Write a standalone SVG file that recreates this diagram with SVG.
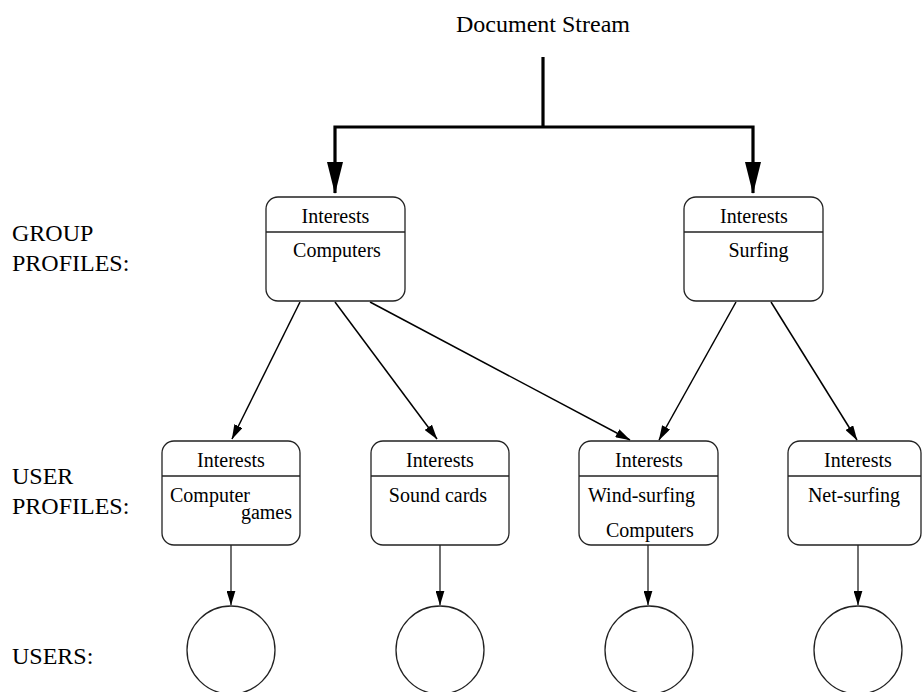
<svg xmlns="http://www.w3.org/2000/svg" width="922" height="692" viewBox="0 0 922 692">
  <style>
    text { font-family: "Liberation Serif", "Times New Roman", serif; fill: #000; }
    .label { font-size: 24px; }
    .title { font-size: 24px; }
    .txt { font-size: 20px; }
    .box { fill: #fff; stroke: #222; stroke-width: 1.3; }
    .div { stroke: #222; stroke-width: 1.3; }
    .feed { fill: none; stroke: #000; stroke-width: 3.2; }
    .link { fill: none; stroke: #000; stroke-width: 1.5; }
    .down { fill: none; stroke: #222; stroke-width: 1.3; }
    .user { fill: #fff; stroke: #222; stroke-width: 1.3; }
  </style>
  <defs>
    <marker id="bigHead" markerUnits="userSpaceOnUse" viewBox="0 0 32 16" markerWidth="32" markerHeight="16" refX="31" refY="8" orient="auto">
      <path d="M0,0 L32,8 L0,16 z" fill="#000"/>
    </marker>
    <marker id="head" markerUnits="userSpaceOnUse" viewBox="0 0 15 9" markerWidth="15" markerHeight="9" refX="14.5" refY="4.5" orient="auto">
      <path d="M0,0 L15,4.5 L0,9 z" fill="#000"/>
    </marker>
  </defs>

  <rect width="922" height="692" fill="#fff"/>

  <!-- row labels -->
  <g id="row-labels">
    <text class="title" x="543" y="32" text-anchor="middle">Document Stream</text>
    <text class="label" x="12" y="241">GROUP</text>
    <text class="label" x="12" y="271">PROFILES:</text>
    <text class="label" x="12" y="484">USER</text>
    <text class="label" x="12" y="514">PROFILES:</text>
    <text class="label" x="12" y="664">USERS:</text>
  </g>

  <!-- connectors -->
  <g id="connectors">
    <path class="feed" d="M543,57 V127"/>
    <path class="feed" d="M543,127 H335 V193" marker-end="url(#bigHead)"/>
    <path class="feed" d="M543,127 H753 V193" marker-end="url(#bigHead)"/>

    <line class="link" x1="300" y1="302" x2="232" y2="439" marker-end="url(#head)"/>
    <line class="link" x1="335" y1="302" x2="437" y2="439" marker-end="url(#head)"/>
    <line class="link" x1="370" y1="302" x2="630" y2="440" marker-end="url(#head)"/>
    <line class="link" x1="736" y1="302" x2="659" y2="440" marker-end="url(#head)"/>
    <line class="link" x1="771" y1="302" x2="857" y2="440" marker-end="url(#head)"/>

    <line class="down" x1="231" y1="545" x2="231" y2="605" marker-end="url(#head)"/>
    <line class="down" x1="440" y1="545" x2="440" y2="605" marker-end="url(#head)"/>
    <line class="down" x1="648" y1="545" x2="648" y2="605" marker-end="url(#head)"/>
    <line class="down" x1="858" y1="545" x2="858" y2="605" marker-end="url(#head)"/>
  </g>

  <!-- group profiles -->
  <g id="group-computers">
    <rect class="box" x="266" y="197" width="139" height="104" rx="12"/>
    <line class="div" x1="266" y1="232" x2="405" y2="232"/>
    <text class="txt" x="335.5" y="223" text-anchor="middle">Interests</text>
    <text class="txt" x="337" y="257" text-anchor="middle">Computers</text>
  </g>
  <g id="group-surfing">
    <rect class="box" x="684" y="197" width="139" height="104" rx="12"/>
    <line class="div" x1="684" y1="232" x2="823" y2="232"/>
    <text class="txt" x="754" y="223" text-anchor="middle">Interests</text>
    <text class="txt" x="758.5" y="257" text-anchor="middle">Surfing</text>
  </g>

  <!-- user profiles -->
  <g id="user-games">
    <rect class="box" x="162" y="441" width="138" height="104" rx="12"/>
    <line class="div" x1="162" y1="476" x2="300" y2="476"/>
    <text class="txt" x="231" y="467" text-anchor="middle">Interests</text>
    <text class="txt" x="170" y="502">Computer</text>
    <text class="txt" x="292" y="519" text-anchor="end">games</text>
  </g>
  <g id="user-sound">
    <rect class="box" x="371" y="441" width="138" height="104" rx="12"/>
    <line class="div" x1="371" y1="476" x2="509" y2="476"/>
    <text class="txt" x="440" y="467" text-anchor="middle">Interests</text>
    <text class="txt" x="438" y="502" text-anchor="middle">Sound cards</text>
  </g>
  <g id="user-windsurf">
    <rect class="box" x="579" y="441" width="139" height="104" rx="12"/>
    <line class="div" x1="579" y1="476" x2="718" y2="476"/>
    <text class="txt" x="649" y="467" text-anchor="middle">Interests</text>
    <text class="txt" x="588" y="502">Wind-surfing</text>
    <text class="txt" x="606" y="537">Computers</text>
  </g>
  <g id="user-netsurf">
    <rect class="box" x="788" y="441" width="133" height="104" rx="12"/>
    <line class="div" x1="788" y1="476" x2="921" y2="476"/>
    <text class="txt" x="858" y="467" text-anchor="middle">Interests</text>
    <text class="txt" x="854" y="502" text-anchor="middle">Net-surfing</text>
  </g>

  <!-- users -->
  <g id="user-1"><circle class="user" cx="231" cy="650" r="44"/></g>
  <g id="user-2"><circle class="user" cx="440" cy="650" r="44"/></g>
  <g id="user-3"><circle class="user" cx="649" cy="650" r="44"/></g>
  <g id="user-4"><circle class="user" cx="858" cy="650" r="44"/></g>
</svg>
